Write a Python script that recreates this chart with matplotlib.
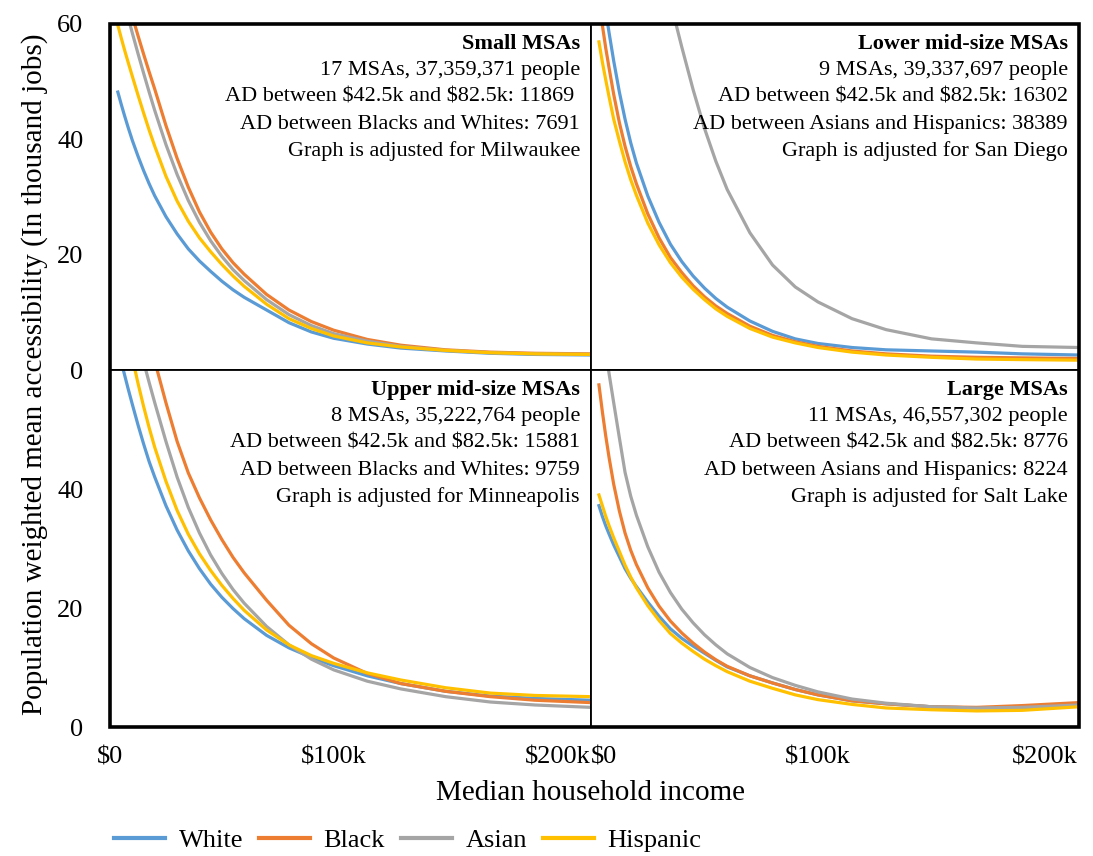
import numpy as np
import matplotlib
matplotlib.use('Agg')
import matplotlib.pyplot as plt
from matplotlib.patches import Rectangle
from matplotlib.lines import Line2D

plt.rcParams['font.family'] = ['Liberation Serif', 'DejaVu Serif']
plt.rcParams['text.parse_math'] = False

# ---------------- data (values in thousand jobs) ----------------
income_k = [3.5, 5, 6.5, 8, 10, 12.5, 15, 17.5, 20, 25, 30, 35, 40, 45, 50, 55, 60,
            70, 80, 90, 100, 115, 130, 150, 170, 190, 215]
groups = ['White', 'Black', 'Asian', 'Hispanic']
colors = ['#5B9BD5', '#ED7D31', '#A5A5A5', '#FFC000']
nan = float('nan')

# Small MSAs
small_white = [48.2, 46.1, 44.1, 42.2, 39.8, 37.1, 34.6, 32.3, 30.2, 26.6, 23.6, 21.0, 18.9, 17.1, 15.4, 13.9, 12.6,
               10.4, 8.2, 6.6, 5.5, 4.5, 3.8, 3.3, 2.9, 2.7, 2.6]
small_black = [71, 68.6, 66.3, 64.1, 61.3, 58, 54.8, 51.7, 48.7, 42.4, 36.7, 31.7, 27.4, 23.9, 21.0, 18.6, 16.6,
               13.1, 10.4, 8.4, 6.9, 5.3, 4.3, 3.5, 3.1, 2.9, 2.8]
small_asian = [68.5, 66, 63.6, 61.3, 58.4, 54.9, 51.5, 48.2, 45.0, 39.1, 33.9, 29.4, 25.6, 22.4, 19.7, 17.4, 15.5,
               12.2, 9.6, 7.7, 6.3, 5.0, 4.1, 3.4, 3.0, 2.8, 2.7]
small_hisp = [59.8, 57.6, 55.5, 53.5, 50.9, 47.7, 44.6, 41.6, 38.8, 33.6, 29.3, 25.8, 22.9, 20.5, 18.3, 16.3, 14.5,
              11.4, 8.9, 7.2, 5.9, 4.7, 4.0, 3.4, 3.0, 2.8, 2.7]

# Lower mid-size MSAs
lower_white = [70, 66, 62.2, 58.4, 53.6, 48.2, 43.5, 39.4, 35.9, 30.2, 25.6, 21.8, 18.8, 16.3, 14.2, 12.4, 10.9,
               8.5, 6.7, 5.4, 4.6, 3.9, 3.5, 3.3, 3.1, 2.8, 2.6]
lower_black = [64.5, 59.8, 55.8, 52.3, 47.8, 42.9, 38.8, 35.3, 32.3, 27.1, 22.9, 19.5, 16.9, 14.6, 12.7, 11.1, 9.8,
               7.6, 6.0, 4.9, 4.1, 3.3, 2.8, 2.4, 2.2, 2.1, 2.0]
lower_asian = [nan, nan, nan, nan, nan, nan, nan, nan, nan, nan, 72, 63.8, 56, 48.6, 41.9, 36.2, 31.3,
               23.8, 18.2, 14.4, 11.8, 8.9, 7.0, 5.4, 4.7, 4.1, 3.9]
lower_hisp = [56.9, 53.4, 50.3, 47.3, 43.5, 39.7, 36.1, 33.0, 30.3, 25.5, 21.7, 18.6, 16.1, 14.0, 12.2, 10.6, 9.3,
              7.2, 5.7, 4.7, 3.9, 3.1, 2.6, 2.2, 1.9, 1.8, 1.7]

# Upper mid-size MSAs
upper_white = [63.7, 61.4, 59.2, 57.0, 54.2, 50.8, 47.6, 44.6, 42.0, 37.2, 33.1, 29.6, 26.6, 24.0, 21.8, 19.9, 18.2,
               15.4, 13.3, 11.7, 10.3, 8.6, 7.3, 6.0, 5.2, 4.8, 4.5]
upper_black = [97, 93, 89, 85, 80, 75, 70, 65.5, 61.5, 54.5, 48, 42.7, 38.5, 34.8, 31.5, 28.5, 25.9,
               21.3, 17.1, 14.0, 11.6, 9.0, 7.3, 6.0, 5.1, 4.5, 4.1]
upper_asian = [79.5, 77, 74.5, 72, 68.8, 65, 61.4, 57.9, 54.5, 48.0, 42.0, 36.9, 32.6, 28.9, 25.8, 23.1, 20.8,
               16.9, 13.8, 11.4, 9.6, 7.7, 6.4, 5.1, 4.2, 3.7, 3.3]
upper_hisp = [74.2, 71.3, 68.4, 65.6, 62.0, 57.8, 53.9, 50.3, 47.0, 41.3, 36.4, 32.4, 29.1, 26.3, 23.8, 21.6, 19.6,
              16.3, 13.8, 12.0, 10.7, 9.1, 7.9, 6.6, 5.7, 5.3, 5.1]

# Large MSAs
large_white = [37.2, 35.4, 33.8, 32.4, 30.6, 28.6, 26.6, 25.0, 23.6, 21.0, 18.6, 16.5, 14.9, 13.6, 12.4, 11.2, 10.1,
               8.6, 7.4, 6.3, 5.4, 4.4, 3.9, 3.4, 3.2, 3.2, 3.6]
large_black = [57.5, 53.0, 48.9, 45.2, 40.8, 36.3, 32.6, 29.7, 27.3, 23.4, 20.3, 17.8, 15.8, 14.1, 12.6, 11.3, 10.2,
               8.6, 7.4, 6.3, 5.4, 4.4, 3.9, 3.4, 3.3, 3.6, 4.1]
large_asian = [71.8, 67.4, 63.2, 59.3, 54.5, 48.6, 42.8, 38.8, 35.6, 30.3, 26.0, 22.6, 19.8, 17.5, 15.5, 13.8, 12.3,
               10.0, 8.3, 7.0, 5.9, 4.7, 4.0, 3.4, 3.2, 3.3, 3.7]
large_hisp = [39, 37.2, 35.4, 33.8, 31.8, 29.5, 27.2, 25.2, 23.4, 20.4, 17.9, 15.7, 14.1, 12.7, 11.4, 10.3, 9.3,
              7.7, 6.5, 5.4, 4.6, 3.8, 3.2, 2.9, 2.7, 2.8, 3.4]

panel_titles = ['Small MSAs', 'Lower mid-size MSAs', 'Upper mid-size MSAs', 'Large MSAs']
panel_lines = [
    ['17 MSAs, 37,359,371 people', 'AD between $42.5k and $82.5k: 11869 ',
     'AD between Blacks and Whites: 7691', 'Graph is adjusted for Milwaukee'],
    ['9 MSAs, 39,337,697 people', 'AD between $42.5k and $82.5k: 16302',
     'AD between Asians and Hispanics: 38389', 'Graph is adjusted for San Diego'],
    ['8 MSAs, 35,222,764 people', 'AD between $42.5k and $82.5k: 15881',
     'AD between Blacks and Whites: 9759', 'Graph is adjusted for Minneapolis'],
    ['11 MSAs, 46,557,302 people', 'AD between $42.5k and $82.5k: 8776',
     'AD between Asians and Hispanics: 8224', 'Graph is adjusted for Salt Lake'],
]
panel_series = [
    [small_white, small_black, small_asian, small_hisp],
    [lower_white, lower_black, lower_asian, lower_hisp],
    [upper_white, upper_black, upper_asian, upper_hisp],
    [large_white, large_black, large_asian, large_hisp],
]
x_ticks = [0, 100000, 200000]
x_ticklabels = ['$0', '$100k', '$200k']
y_ticks = [0, 20, 40, 60]

# ---------------- figure ----------------
W, H = 1093, 856
fig = plt.figure(figsize=(W / 100, H / 100), dpi=100)
left, right, top, bottom = 110 / W, 1079 / W, 1 - 24 / H, 1 - 727 / H
gs = fig.add_gridspec(2, 2, left=left, right=right, top=top, bottom=bottom,
                      wspace=0, hspace=0, width_ratios=[481, 488],
                      height_ratios=[346, 357])

x = np.array(income_k) * 1000
for i in range(4):
    r, c = divmod(i, 2)
    ax = fig.add_subplot(gs[r, c])
    for vals, col, name in zip(panel_series[i], colors, groups):
        ax.plot(x, vals, color=col, lw=2.3, solid_joinstyle='round', label=name)
    ax.set_xlim(0, 215000)
    ax.set_ylim(0, 60)
    ax.set_xticks(x_ticks)
    ax.set_yticks(y_ticks)
    ax.tick_params(length=0, labelsize=19)
    ax.tick_params(axis='y', pad=19)
    ax.tick_params(axis='x', pad=14)
    for s in ax.spines.values():
        s.set_linewidth(1.3)
    if r == 1:
        ax.set_xticklabels(x_ticklabels)
        if c == 1:
            ax.get_xticklabels()[0].set_horizontalalignment('left')
    else:
        ax.set_xticklabels([])
    if c == 0:
        labs = ['0', '20', '40', '60'] if r == 0 else ['0', '20', '40', '']
        ax.set_yticklabels(labs)
    else:
        ax.set_yticklabels([])
    ax.annotate(panel_titles[i], xy=(1, 1), xycoords='axes fraction',
                xytext=(-8, -14.5), textcoords='offset points', ha='right',
                va='center', fontsize=16, fontweight='bold')
    for j, line in enumerate(panel_lines[i]):
        ax.annotate(line, xy=(1, 1), xycoords='axes fraction',
                    xytext=(-8, -14.5 - 19.2 * (j + 1)), textcoords='offset points',
                    ha='right', va='center', fontsize=16)

fig.add_artist(Rectangle((left, bottom), right - left, top - bottom, fill=False,
                         lw=2.6, edgecolor='black', transform=fig.transFigure))

fig.text(35 / W, 1 - 374 / H, 'Population weighted mean accessibility (In thousand jobs)',
         rotation=90, ha='center', va='center', fontsize=21)
fig.text(591 / W, 1 - 793 / H, 'Median household income', ha='center', va='center',
         fontsize=21)

handles = [Line2D([], [], color=c, lw=3) for c in colors]
fig.legend(handles, groups, loc='center left', bbox_to_anchor=(114 / W, 1 - 840 / H),
           ncol=4, frameon=False, fontsize=19, handlelength=1.95, handletextpad=0.5,
           columnspacing=0.6, borderaxespad=0, borderpad=0)

fig.savefig('out.png', dpi=100)
